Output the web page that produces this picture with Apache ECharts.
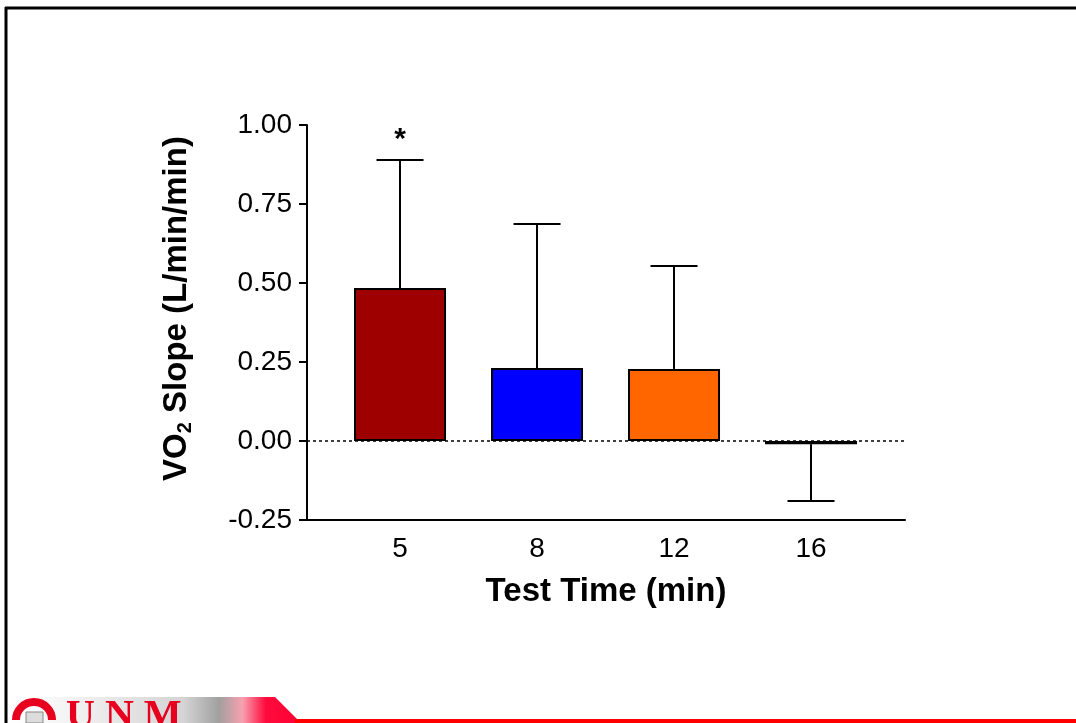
<!DOCTYPE html>
<html>
<head>
<meta charset="utf-8">
<script src="https://cdn.jsdelivr.net/npm/echarts@6/dist/echarts.min.js"></script>
<style>
  html, body { margin: 0; padding: 0; background: #fff; }
  #chart { width: 1076px; height: 723px; }
</style>
</head>
<body>
<div id="chart"></div>
<script>
// test times (min)
var categories = ['5', '8', '12', '16'];
// mean VO2 slope (L/min/min)
var slopeMean = [0.484, 0.231, 0.228, -0.01];
// error bar length (one-sided)
var slopeErr = [0.405, 0.456, 0.326, 0.18];
// significance marks
var sigMarks = ['*', '', '', ''];
var barColors = ['#9e0000', '#0000ff', '#ff6600', '#000000'];

var font = 'Liberation Sans, Arial, sans-serif';

var myChart = echarts.init(document.getElementById('chart'));

var barData = slopeMean.map(function (v, i) {
    return { value: [i, v], itemStyle: { color: barColors[i] } };
});
var errData = slopeMean.map(function (v, i) {
    return [i, v, slopeErr[i]];
});

option = {
    animation: false,
    backgroundColor: '#fff',
    grid: { left: 307, right: 171, top: 125, bottom: 203 },
    xAxis: {
        type: 'value',
        min: -0.679,
        max: 3.686,
        splitLine: { show: false },
        axisLine: { show: true, onZero: false, lineStyle: { color: '#000', width: 2 } },
        axisTick: { show: false },
        axisLabel: {
            customValues: [0, 1, 2, 3],
            formatter: function (v) { return categories[Math.round(v)]; },
            color: '#000',
            fontFamily: font,
            fontSize: 28,
            margin: 15
        },
        name: 'Test Time (min)',
        nameLocation: 'middle',
        nameGap: 55,
        nameTextStyle: { color: '#000', fontFamily: font, fontSize: 33, fontWeight: 'bold' }
    },
    yAxis: {
        type: 'value',
        min: -0.25,
        max: 1.0,
        interval: 0.25,
        splitLine: { show: false },
        axisLine: { show: true, onZero: false, lineStyle: { color: '#000', width: 2 } },
        axisTick: { show: true, length: 8, lineStyle: { color: '#000', width: 2 } },
        axisLabel: {
            formatter: function (v) { return v.toFixed(2); },
            color: '#000',
            fontFamily: font,
            fontSize: 28,
            margin: 15
        },
        name: '{a|VO}{s|2}{a| Slope (L/min/min)}',
        nameLocation: 'middle',
        nameRotate: 90,
        nameGap: 112,
        nameTextStyle: {
            padding: [0, 0, 0, 28],
            rich: {
                a: { color: '#000', fontFamily: font, fontSize: 33, fontWeight: 'bold', lineHeight: 36 },
                s: { color: '#000', fontFamily: font, fontSize: 20, fontWeight: 'bold', lineHeight: 36, verticalAlign: 'bottom' }
            }
        }
    },
    series: [
        {
            type: 'bar',
            data: barData,
            barWidth: 92,
            itemStyle: { borderColor: '#000', borderWidth: 2 },
            markLine: {
                silent: true,
                symbol: ['none', 'none'],
                label: { show: false },
                lineStyle: { color: '#000', width: 1.5, type: [3, 3] },
                data: [{ yAxis: 0 }]
            },
            z: 2
        },
        {
            type: 'custom',
            data: errData,
            z: 3,
            renderItem: function (params, api) {
                var i = api.value(0);
                var m = api.value(1);
                var e = api.value(2);
                var mark = sigMarks[params.dataIndex];
                var end = m >= 0 ? m + e : m - e;
                var p0 = api.coord([i, m]);
                var p1 = api.coord([i, end]);
                var half = 23.5;
                var children = [
                    { type: 'line', shape: { x1: p0[0], y1: p0[1], x2: p1[0], y2: p1[1] },
                      style: { stroke: '#000', lineWidth: 2 } },
                    { type: 'line', shape: { x1: p1[0] - half, y1: p1[1], x2: p1[0] + half, y2: p1[1] },
                      style: { stroke: '#000', lineWidth: 2 } }
                ];
                if (mark) {
                    children.push({
                        type: 'text',
                        x: p1[0], y: p1[1] - 5,
                        style: { text: mark, fill: '#000', font: 'bold 30px ' + font,
                                 textAlign: 'center', textVerticalAlign: 'bottom' }
                    });
                }
                return { type: 'group', children: children };
            }
        }
    ],
    graphic: [
        // slide frame
        { type: 'line', shape: { x1: 5, y1: 8, x2: 1076, y2: 8 }, style: { stroke: '#000', lineWidth: 3 }, z: 10 },
        { type: 'line', shape: { x1: 6, y1: 7, x2: 6, y2: 723 }, style: { stroke: '#000', lineWidth: 3 }, z: 10 },
        // footer band
        {
            type: 'polygon',
            shape: { points: [[8, 697], [275, 697], [301, 723], [8, 723]] },
            style: {
                fill: {
                    type: 'linear', x: 0, y: 0, x2: 1, y2: 0,
                    colorStops: [
                        { offset: 0, color: '#ffffff' },
                        { offset: 0.2, color: '#f4f4f4' },
                        { offset: 0.6, color: '#d4d4d4' },
                        { offset: 0.72, color: '#a0a0a0' },
                        { offset: 0.8, color: '#f8a0b0' },
                        { offset: 0.88, color: '#ff0a3c' },
                        { offset: 1, color: '#ff0033' }
                    ]
                }
            },
            z: 5
        },
        { type: 'rect', shape: { x: 295, y: 719, width: 781, height: 4 }, style: { fill: '#ff0000' }, z: 5 },
        // logo ring
        { type: 'arc', shape: { cx: 34, cy: 720, r: 18, startAngle: Math.PI, endAngle: 2 * Math.PI },
          style: { stroke: '#e8001f', lineWidth: 8, fill: 'none' }, z: 6 },
        { type: 'rect', shape: { x: 26, y: 712, width: 17, height: 11 }, style: { fill: '#dcdcdc', stroke: '#888', lineWidth: 1 }, z: 7 },
        {
            type: 'text', x: 66, y: 697, z: 7,
            style: { text: 'U N M', fill: '#e8001f', font: 'bold 40px Liberation Serif, serif', textVerticalAlign: 'top' }
        }
    ]
};
myChart.setOption(option);
</script>
</body>
</html>
